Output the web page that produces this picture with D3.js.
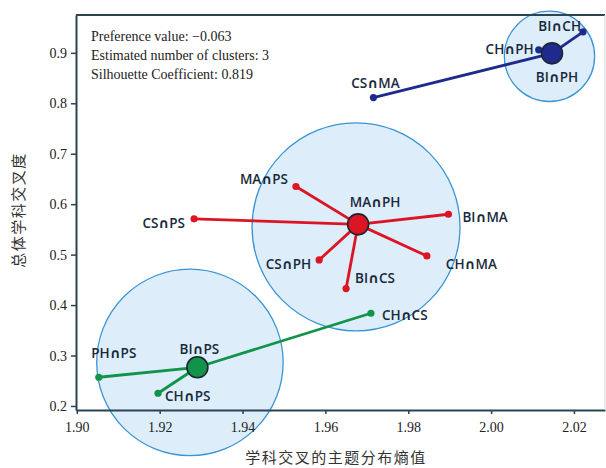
<!DOCTYPE html>
<html>
<head>
<meta charset="utf-8">
<script src="https://cdn.jsdelivr.net/npm/d3@7"></script>
<style>
  body { margin: 0; background: #fff; }
  svg { display: block; }
</style>
</head>
<body>
<svg></svg>
<script>
// データ
var clusterNames = ["MA∩PH", "BI∩PH", "BI∩PS"];
var clusterX = [1.9679, 2.0147, 1.9291];
var clusterY = [0.560, 0.899, 0.2767];

// 円（中心と半径：x軸の単位）
var circleX = [1.9674, 2.0141, 1.9273];
var circleY = [0.555, 0.893, 0.2863];
var circleR = [0.0251, 0.0109, 0.0225];

var memberNames = ["MA∩PS", "CS∩PS", "BI∩MA", "CH∩MA", "CS∩PH", "BI∩CS",
                   "BI∩CH", "CH∩PH", "CS∩MA",
                   "PH∩PS", "CH∩PS", "CH∩CS"];
var memberX = [1.9529, 1.9283, 1.9897, 1.9845, 1.9585, 1.9650,
               2.0222, 2.0115, 1.9716,
               1.9053, 1.9196, 1.9710];
var memberY = [0.635, 0.571, 0.580, 0.4974, 0.4895, 0.4326,
               0.9416, 0.906, 0.8113,
               0.2569, 0.2252, 0.3838];
var memberCluster = [0, 0, 0, 0, 0, 0, 1, 1, 1, 2, 2, 2];

var xTicks = [1.90, 1.92, 1.94, 1.96, 1.98, 2.00, 2.02];
var yTicks = [0.2, 0.3, 0.4, 0.5, 0.6, 0.7, 0.8, 0.9];
var infoLines = ["Preference value: \u22120.063", "Estimated number of clusters: 3", "Silhouette Coefficient: 0.819"];

// 見た目
var colors = ["#dc1424", "#1e2a8e", "#12934a"];
var labelColor = "#17293a";
var axisColor = "#2b4352";
// ラベルの位置調整 [dx, dy, anchor]
var labelPos = {
  "MA∩PH": [17, -17, "middle"], "BI∩PH": [5, 29, "middle"], "BI∩PS": [2, -13, "middle"],
  "MA∩PS": [-8, -3, "end"], "CS∩PS": [-9, 9, "end"], "BI∩MA": [14, 8, "start"],
  "CH∩MA": [19, 13, "start"], "CS∩PH": [-8, 9, "end"], "BI∩CS": [9, -6, "start"],
  "BI∩CH": [-2, -1, "end"], "CH∩PH": [-5, 4, "end"], "CS∩MA": [2, -10, "middle"],
  "PH∩PS": [15, -19, "middle"], "CH∩PS": [7, 8, "start"], "CH∩CS": [11, 7, "start"]
};

var width = 606, height = 468;
var mLeft = 76, mRight = 605, mTop = 15, mBottom = 410;

var svg = d3.select("svg").attr("width", width).attr("height", height);

var x = d3.scaleLinear().domain([1.8998, 2.0275]).range([mLeft, mRight]);
var y = d3.scaleLinear().domain([0.192, 0.975]).range([mBottom, mTop]);

// 円
var circles = circleX.map(function(d, i) { return {cx: d, cy: circleY[i], r: circleR[i]}; });
svg.append("g").selectAll("circle").data(circles).enter().append("circle")
  .attr("cx", function(d) { return x(d.cx); })
  .attr("cy", function(d) { return y(d.cy); })
  .attr("r", function(d) { return x(d.cx + d.r) - x(d.cx); })
  .attr("fill", "#ddedfa");
svg.append("g").selectAll("circle").data(circles).enter().append("circle")
  .attr("cx", function(d) { return x(d.cx); })
  .attr("cy", function(d) { return y(d.cy); })
  .attr("r", function(d) { return x(d.cx + d.r) - x(d.cx); })
  .attr("fill", "none")
  .attr("stroke", "#3a94d4")
  .attr("stroke-width", 1.3);

// 線
var members = memberNames.map(function(n, i) {
  return {name: n, x: memberX[i], y: memberY[i], c: memberCluster[i]};
});
svg.append("g").selectAll("line").data(members).enter().append("line")
  .attr("x1", function(d) { return x(clusterX[d.c]); })
  .attr("y1", function(d) { return y(clusterY[d.c]); })
  .attr("x2", function(d) { return x(d.x); })
  .attr("y2", function(d) { return y(d.y); })
  .attr("stroke", function(d) { return colors[d.c]; })
  .attr("stroke-width", 2.8);

svg.append("g").selectAll("circle").data(members).enter().append("circle")
  .attr("cx", function(d) { return x(d.x); })
  .attr("cy", function(d) { return y(d.y); })
  .attr("r", 3.6)
  .attr("fill", function(d) { return colors[d.c]; });

// 中心点
var centers = clusterNames.map(function(n, i) { return {name: n, x: clusterX[i], y: clusterY[i], c: i}; });
svg.append("g").selectAll("circle").data(centers).enter().append("circle")
  .attr("cx", function(d) { return x(d.x); })
  .attr("cy", function(d) { return y(d.y); })
  .attr("r", 10.5)
  .attr("fill", function(d) { return colors[d.c]; })
  .attr("stroke", "#1a2733")
  .attr("stroke-width", 1.6);

// ラベル
svg.append("g").selectAll("text").data(members.concat(centers)).enter().append("text")
  .attr("x", function(d) { return x(d.x) + labelPos[d.name][0]; })
  .attr("y", function(d) { return y(d.y) + labelPos[d.name][1]; })
  .attr("text-anchor", function(d) { return labelPos[d.name][2]; })
  .attr("font-family", "'Open Sans', 'DejaVu Sans', sans-serif")
  .attr("font-weight", 600)
  .attr("font-size", 13.5)
  .attr("fill", labelColor)
  .text(function(d) { return d.name; });

// 軸
svg.append("g")
  .attr("transform", "translate(0," + mBottom + ")")
  .call(d3.axisBottom(x).tickValues(xTicks).tickFormat(d3.format(".2f")).tickSize(4).tickSizeOuter(0))
  .call(function(g) {
    g.select(".domain").attr("stroke", axisColor).attr("stroke-width", 2);
    g.selectAll(".tick line").attr("stroke", axisColor).attr("stroke-width", 1.5);
    g.selectAll(".tick text").attr("fill", "#222").attr("font-family", "'Liberation Serif', serif")
      .attr("font-size", 14).attr("dy", "1.05em");
  });

svg.append("g")
  .attr("transform", "translate(" + mLeft + ",0)")
  .call(d3.axisLeft(y).tickValues(yTicks).tickFormat(d3.format(".1f")).tickSize(5).tickSizeOuter(0))
  .call(function(g) {
    g.select(".domain").attr("stroke", axisColor).attr("stroke-width", 2);
    g.selectAll(".tick line").attr("stroke", axisColor).attr("stroke-width", 1.5);
    g.selectAll(".tick text").attr("fill", "#222").attr("font-family", "'Liberation Serif', serif")
      .attr("font-size", 14).attr("x", -9);
  });

// 上・右の枠
svg.append("line").attr("x1", mLeft).attr("x2", mRight).attr("y1", mTop).attr("y2", mTop)
  .attr("stroke", axisColor).attr("stroke-width", 2);
svg.append("line").attr("x1", mRight).attr("x2", mRight).attr("y1", mTop).attr("y2", mBottom)
  .attr("stroke", "#d4d8dc").attr("stroke-width", 1);

// 注記
svg.append("g").selectAll("text").data(infoLines).enter().append("text")
  .attr("x", 91)
  .attr("y", function(d, i) { return 41 + i * 19; })
  .attr("font-family", "'Liberation Serif', serif")
  .attr("font-size", 14)
  .attr("fill", "#222")
  .text(function(d) { return d; });

// 軸タイトル
svg.append("text")
  .attr("x", 336).attr("y", 463)
  .attr("text-anchor", "middle")
  .attr("font-family", "'Noto Sans CJK SC', sans-serif")
  .attr("font-size", 15)
  .attr("letter-spacing", 1.5)
  .attr("fill", "#333")
  .text("学科交叉的主题分布熵值");

svg.append("text")
  .attr("transform", "translate(24,210) rotate(-90)")
  .attr("text-anchor", "middle")
  .attr("font-family", "'Noto Sans CJK SC', sans-serif")
  .attr("font-size", 15)
  .attr("letter-spacing", 1.5)
  .attr("fill", "#333")
  .text("总体学科交叉度");
</script>
</body>
</html>
